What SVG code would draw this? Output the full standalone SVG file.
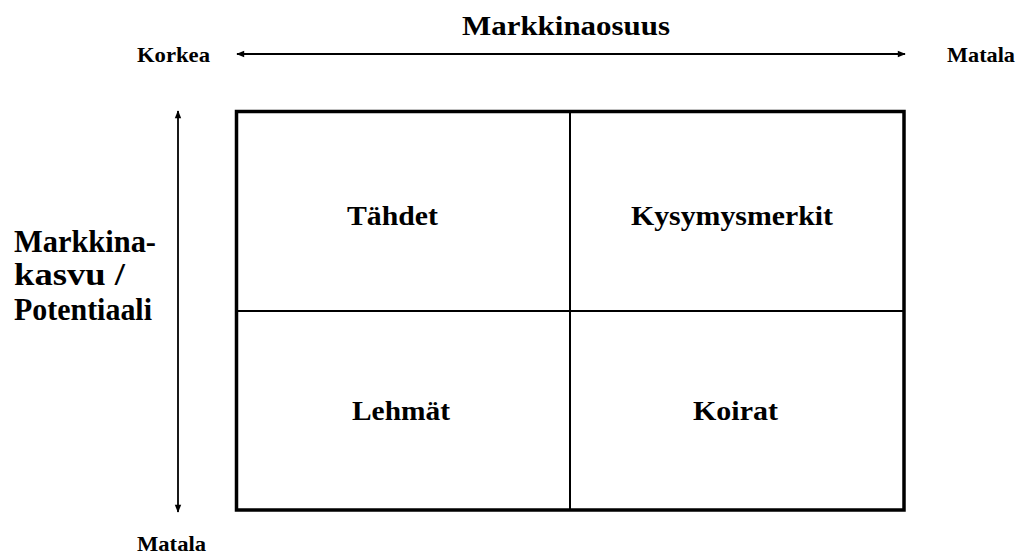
<svg xmlns="http://www.w3.org/2000/svg" width="1019" height="557" viewBox="0 0 1019 557">
<style>
text{font-family:"Liberation Serif","Times New Roman",serif;font-weight:bold;fill:#000}
.small{font-size:21px}
.cell{font-size:28px}
.axis{stroke:#000;stroke-width:1.8;fill:none}
</style>
<defs>
<marker id="ah" viewBox="0 0 10 10" refX="9" refY="5" markerWidth="9" markerHeight="8" orient="auto-start-reverse" markerUnits="userSpaceOnUse">
<path d="M0,1 L10,5 L0,9 Z" fill="#000"/>
</marker>
</defs>
<rect width="1019" height="557" fill="#fff"/>
<g id="connectors">
<line class="axis" x1="237" y1="54" x2="905" y2="54" marker-start="url(#ah)" marker-end="url(#ah)"/>
<line class="axis" x1="178" y1="111" x2="178" y2="512" marker-start="url(#ah)" marker-end="url(#ah)"/>
</g>
<g id="matrix">
<rect x="236.5" y="111.5" width="667.5" height="398.5" fill="none" stroke="#000" stroke-width="3.5"/>
<line x1="570" y1="111.5" x2="570" y2="510" stroke="#000" stroke-width="2"/>
<line x1="236.5" y1="311" x2="904" y2="311" stroke="#000" stroke-width="2"/>
</g>
<g id="title"><text x="462" y="35" font-size="27" textLength="208" lengthAdjust="spacingAndGlyphs">Markkinaosuus</text></g>
<g id="korkea"><text class="small" x="137" y="62" textLength="73" lengthAdjust="spacingAndGlyphs">Korkea</text></g>
<g id="matala-right"><text class="small" x="947" y="62" textLength="68" lengthAdjust="spacingAndGlyphs">Matala</text></g>
<g id="matala-bottom"><text class="small" x="137" y="551" textLength="69" lengthAdjust="spacingAndGlyphs">Matala</text></g>
<g id="y-label">
<text x="14" y="252" font-size="31" textLength="142" lengthAdjust="spacingAndGlyphs">Markkina-</text>
<text x="14" y="285" font-size="31" textLength="111" lengthAdjust="spacingAndGlyphs">kasvu /</text>
<text x="14" y="320" font-size="31" textLength="138" lengthAdjust="spacingAndGlyphs">Potentiaali</text>
</g>
<g id="tahdet"><text class="cell" x="347" y="225" textLength="91" lengthAdjust="spacingAndGlyphs">Tähdet</text></g>
<g id="kysymysmerkit"><text class="cell" x="631" y="225" textLength="202" lengthAdjust="spacingAndGlyphs">Kysymysmerkit</text></g>
<g id="lehmat"><text class="cell" x="352" y="420" textLength="98" lengthAdjust="spacingAndGlyphs">Lehmät</text></g>
<g id="koirat"><text class="cell" x="693" y="420" textLength="85" lengthAdjust="spacingAndGlyphs">Koirat</text></g>
</svg>
